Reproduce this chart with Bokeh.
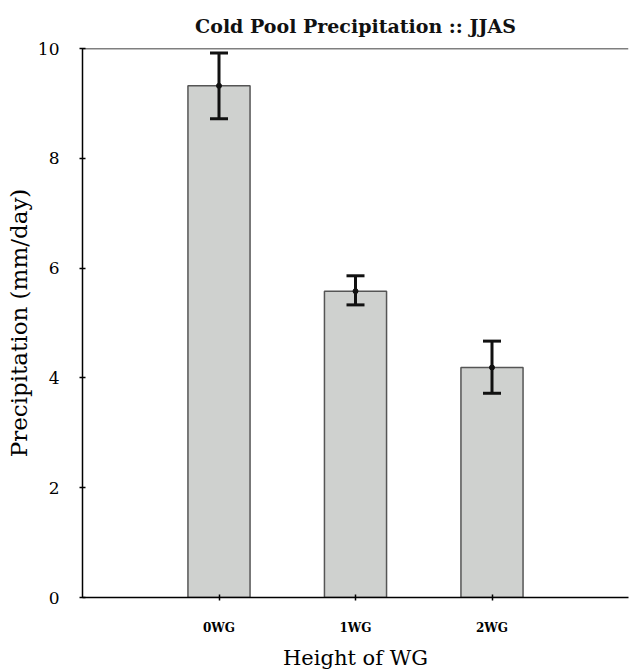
from bokeh.plotting import figure
from bokeh.models import (ColumnDataSource, Range1d, FixedTicker, Whisker, TeeHead, Span)
from bokeh.embed import file_html
from bokeh.resources import INLINE

title_text = "Cold Pool Precipitation :: JJAS"
categories = ["0WG", "1WG", "2WG"]
precip = [9.32, 5.58, 4.19]
err_low = [8.72, 5.33, 3.72]
err_high = [9.92, 5.86, 4.67]
y_ticks = [0, 2, 4, 6, 8, 10]

xs = list(range(1, len(categories) + 1))
src = ColumnDataSource(dict(x=xs, top=precip, lo=err_low, hi=err_high))

FONT = "DejaVu Serif"
INK = "#000000"

p = figure(width=630, height=672, output_backend="svg", toolbar_location=None,
           x_range=Range1d(0, 4), y_range=Range1d(0, 10),
           min_border_left=82, min_border_right=2, min_border_top=48, min_border_bottom=74)
p.outline_line_color = None
p.grid.visible = False
p.background_fill_color = "white"

p.title.text = title_text
p.title.align = "center"
p.title.text_font = FONT
p.title.text_font_size = "19px"
p.title.text_font_style = "bold"
p.title.text_color = "#111111"
p.title.standoff = 24
p.title.offset = 0

p.vbar(x="x", top="top", width=0.455, bottom=0, source=src,
       fill_color="#cfd1cf", line_color="#555555", line_width=1.5)

w = Whisker(source=src, base="x", lower="lo", upper="hi",
            line_color="#111111", line_width=3, level="overlay",
            upper_head=TeeHead(size=18, line_width=3, line_color="#111111"),
            lower_head=TeeHead(size=18, line_width=3, line_color="#111111"))
p.add_layout(w)
p.scatter(x="x", y="top", source=src, size=5, color="#111111", level="overlay")

p.add_layout(Span(location=10, dimension="width", line_color="black", line_width=1.5))

xa = p.xaxis[0]
xa.ticker = FixedTicker(ticks=xs)
xa.major_label_overrides = {x: c for x, c in zip(xs, categories)}
xa.minor_tick_line_color = None
xa.major_tick_in = 3
xa.major_tick_out = 3
xa.major_tick_line_width = 1.5
xa.axis_line_width = 1.5
xa.major_label_standoff = 20
xa.major_label_text_font = FONT
xa.major_label_text_font_size = "12px"
xa.major_label_text_font_style = "bold"
xa.major_label_text_color = INK
xa.axis_label = "Height of WG"
xa.axis_label_text_font = FONT
xa.axis_label_text_font_size = "21px"
xa.axis_label_text_font_style = "normal"
xa.axis_label_text_color = INK
xa.axis_label_standoff = 8

ya = p.yaxis[0]
ya.ticker = FixedTicker(ticks=y_ticks)
ya.minor_tick_line_color = None
ya.major_tick_in = 3
ya.major_tick_out = 3
ya.major_tick_line_width = 1.5
ya.axis_line_width = 1.5
ya.major_label_standoff = 20
ya.major_label_text_font = FONT
ya.major_label_text_font_size = "17px"
ya.major_label_text_color = INK
ya.axis_label = "Precipitation (mm/day)"
ya.axis_label_text_font = FONT
ya.axis_label_text_font_size = "23px"
ya.axis_label_text_font_style = "normal"
ya.axis_label_text_color = INK
ya.axis_label_standoff = 3

open("out.html", "w").write(file_html(p, INLINE))
